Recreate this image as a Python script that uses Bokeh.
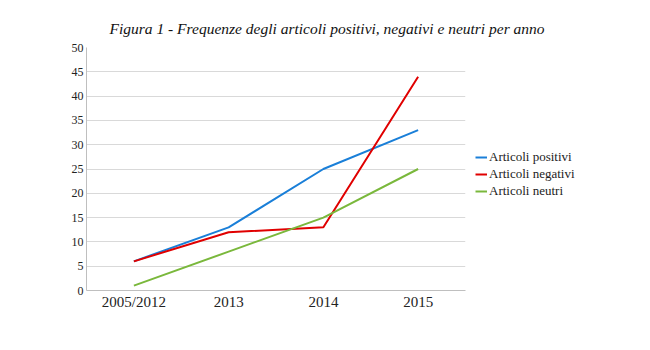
from bokeh.plotting import figure
from bokeh.models import FactorRange, Range1d, Legend, LegendItem
from bokeh.embed import file_html
from bokeh.resources import INLINE

categories = ["2005/2012", "2013", "2014", "2015"]
positivi = [6, 13, 25, 33]
negativi = [6, 12, 13, 44]
neutri = [1, 8, 15, 25]
y_ticks = [0, 5, 10, 15, 20, 25, 30, 35, 40, 45, 50]

p = figure(frame_width=379, frame_height=243, output_backend="svg", toolbar_location=None,
           x_range=FactorRange(*categories, range_padding=0),
           y_range=Range1d(0, 50),
           min_border_left=86, min_border_right=0, min_border_top=47, min_border_bottom=55)
p.outline_line_color = None
p.background_fill_color = "white"
p.border_fill_color = "white"

p.title.text = "Figura 1 - Frequenze degli articoli positivi, negativi e neutri per anno"
p.title.text_font = "Liberation Serif"
p.title.text_font_style = "italic"
p.title.text_font_size = "15.5px"
p.title.align = "left"
p.title.offset = 23
p.title.standoff = 21
p.title.text_color = "#111111"

serif = "Liberation Serif"
p.xaxis.axis_line_color = "#bfbfbf"
p.yaxis.axis_line_color = "#bfbfbf"
p.xaxis.major_tick_line_color = None
p.yaxis.major_tick_line_color = None
p.xaxis.major_tick_out = 0
p.yaxis.major_tick_out = 0
p.xaxis.minor_tick_line_color = None
p.yaxis.minor_tick_line_color = None
p.yaxis.ticker = y_ticks
p.xaxis.major_label_text_font = serif
p.yaxis.major_label_text_font = serif
p.xaxis.major_label_text_font_size = "15px"
p.yaxis.major_label_text_font_size = "12px"
p.xaxis.major_label_text_color = "#222222"
p.yaxis.major_label_text_color = "#222222"
p.xaxis.major_label_standoff = 3
p.yaxis.major_label_standoff = 3
p.xgrid.grid_line_color = None
p.ygrid.grid_line_color = "#d9d9d9"
p.ygrid.grid_line_width = 1

r1 = p.line(categories, positivi, line_color="#1a7fd8", line_width=2)
r2 = p.line(categories, negativi, line_color="#e00000", line_width=2)
r3 = p.line(categories, neutri, line_color="#7ab83c", line_width=2)

legend = Legend(items=[LegendItem(label="Articoli positivi", renderers=[r1]),
                       LegendItem(label="Articoli negativi", renderers=[r2]),
                       LegendItem(label="Articoli neutri", renderers=[r3])],
                location="center_left", background_fill_alpha=0, border_line_color=None,
                title=" ", title_text_font_size="7px", title_standoff=3,
                label_text_font=serif, label_text_font_size="13px", label_text_color="#222222",
                glyph_width=12, glyph_height=8, spacing=1, label_height=16, padding=0,
                label_standoff=2, margin=10)
p.add_layout(legend, "right")

open("out.html", "w").write(file_html(p, INLINE))
